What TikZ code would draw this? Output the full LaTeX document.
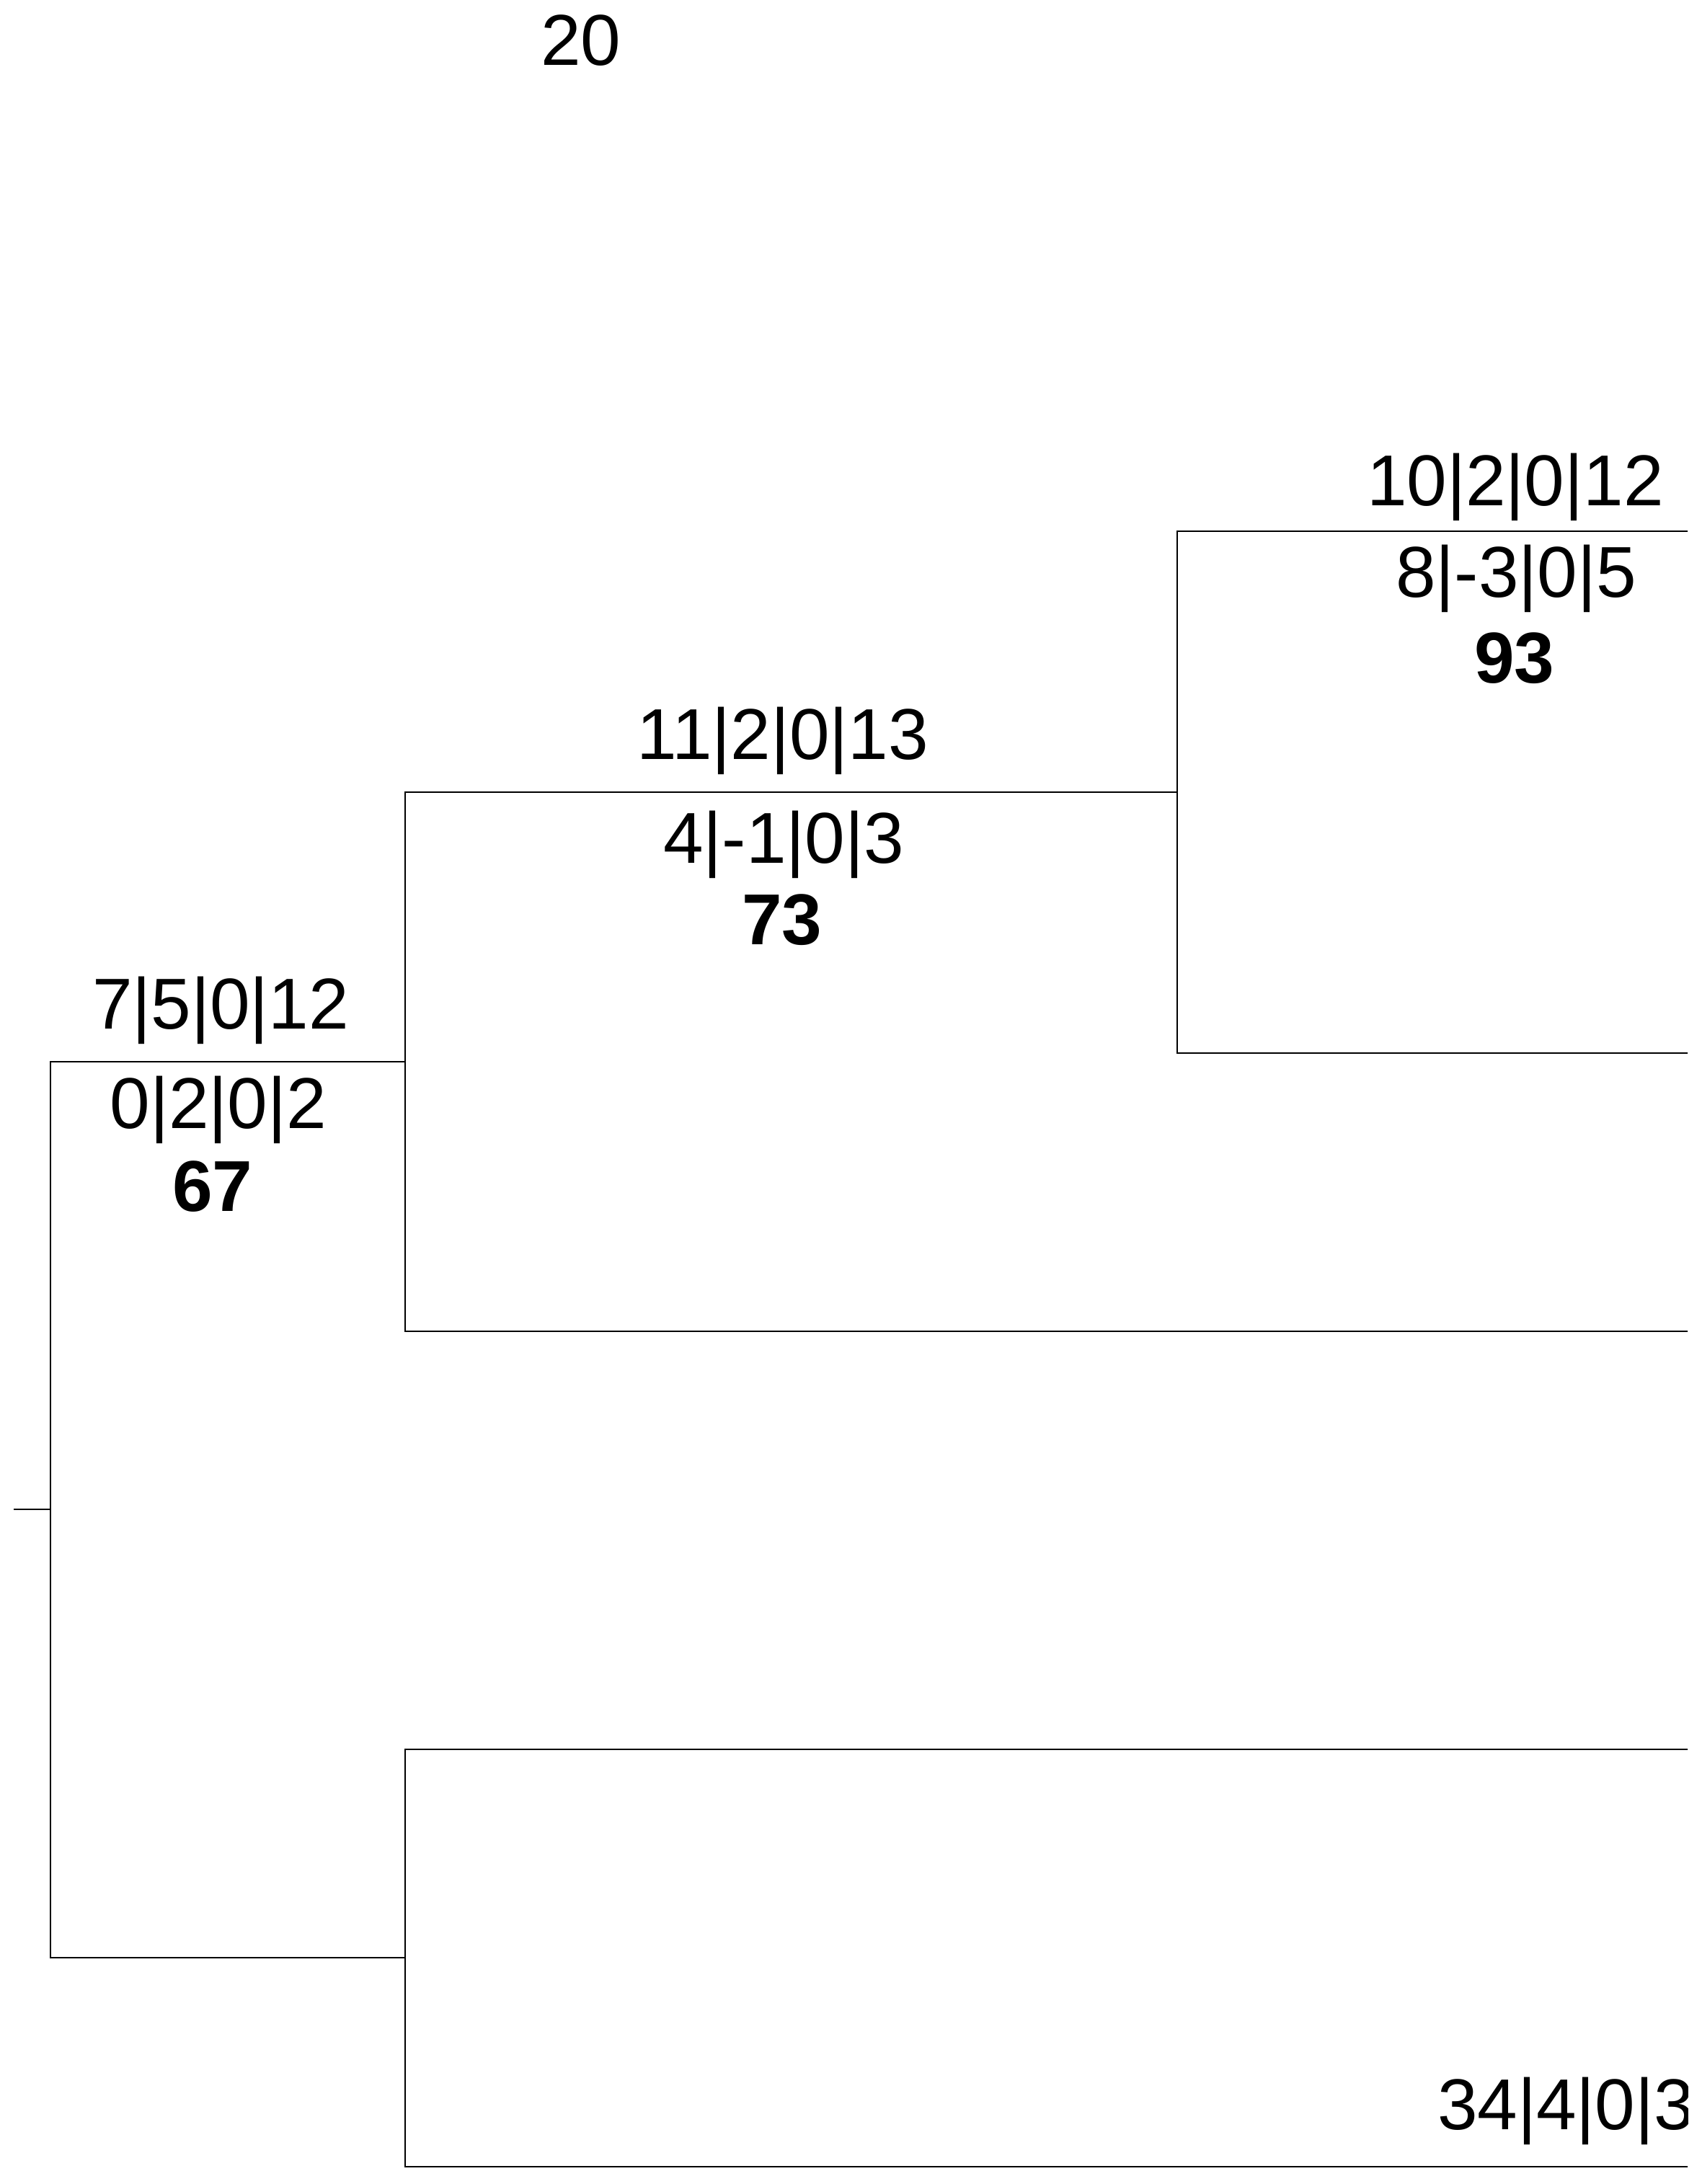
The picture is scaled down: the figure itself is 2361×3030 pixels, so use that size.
\documentclass[tikz,border=0pt]{standalone}
\usepackage{fontspec}
\setmainfont{Liberation Sans}

\begin{document}
\begin{tikzpicture}[x=0.1pt, y=-0.1pt, branch/.style={line width=0.27pt}, elab/.style={anchor=base, inner sep=0pt}]
				\useasboundingbox (0, 0) rectangle (2361, 3030);
				\clip (0, 0) rectangle (2341, 3030);
				\node[elab] (S)at(806, 90) {20};
				\coordinate (R0)at(19, 2094);
				\coordinate (R)at(70, 2094);
				\coordinate (N1)at(562, 1473);
				\coordinate (N2)at(1633, 1099);
				\coordinate (N4)at(562, 2716);
				\coordinate (L1)at(2600, 737);
				\coordinate (L2)at(2600, 1461);
				\coordinate (L3)at(2600, 1847);
				\coordinate (L4)at(2600, 2427);
				\coordinate (L5)at(2600, 3006);
				\draw[branch] (R0) -- (R);
				\draw[branch] (R) |- (N1);
				\draw[branch] (R) |- (N4);
				\draw[branch] (N1) |- (N2);
				\draw[branch] (N1) |- (L3);
				\draw[branch] (N2) |- (L1);
				\draw[branch] (N2) |- (L2);
				\draw[branch] (N4) |- (L4);
				\draw[branch] (N4) |- (L5);
				\node[elab] (A1)at(2102, 701) {10|2|0|12};
				\node[elab] (A2)at(2103, 828) {8|-3|0|5};
				\node[elab] (A3)at(2101, 947) {\bfseries 93};
				\node[elab] (B1)at(1086, 1053) {11|2|0|13};
				\node[elab] (B2)at(1087, 1197) {4|-1|0|3};
				\node[elab] (B3)at(1085, 1310) {\bfseries 73};
				\node[elab] (C1)at(306, 1427) {7|5|0|12};
				\node[elab] (C2)at(303, 1565) {0|2|0|2};
				\node[elab] (C3)at(295, 1680) {\bfseries 67};
				\node[elab, anchor=base west] (D1)at(1992, 2954) {34|4|0|3};
			\end{tikzpicture}
\end{document}
